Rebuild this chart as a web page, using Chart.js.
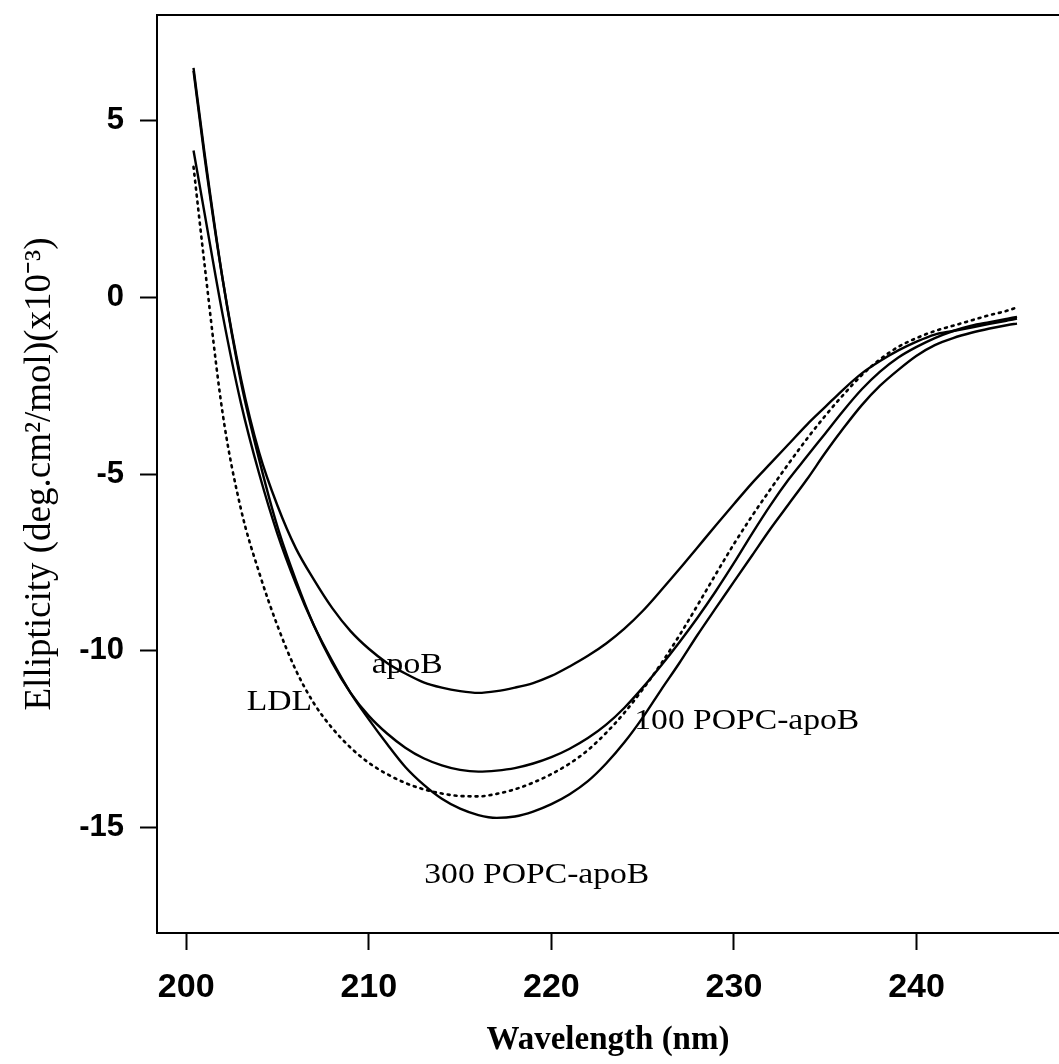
<!DOCTYPE html>
<html>
<head>
<meta charset="utf-8">
<title>CD spectra - apoB / LDL / POPC-apoB</title>
<script src="https://cdn.jsdelivr.net/npm/chart.js@4.4.0/dist/chart.umd.min.js"></script>
<style>
  html, body { margin: 0; padding: 0; background: #fff; }
  #cdChart { display: block; }
</style>
</head>
<body>
<canvas id="cdChart" width="1059" height="1064"></canvas>
<script>
// Wavelength (nm) and ellipticity (x10^-3)
const wavelengths = [200.4, 201, 202, 203, 204, 205, 206, 207, 208, 209, 210, 211, 212, 213, 214, 215, 216, 217, 218, 219, 220, 221, 222, 223, 224, 225, 226, 227, 228, 229, 230, 231, 232, 233, 234, 235, 236, 237, 238, 239, 240, 241, 242, 243, 244, 245, 245.5];

const apoB = [6.42, 4.0, 0.5, -2.3, -4.4, -5.9, -7.1, -8.0, -8.8, -9.45, -9.95, -10.35, -10.65, -10.9, -11.05, -11.15, -11.2, -11.15, -11.05, -10.92, -10.72, -10.45, -10.15, -9.8, -9.38, -8.88, -8.3, -7.7, -7.08, -6.46, -5.85, -5.25, -4.7, -4.15, -3.6, -3.1, -2.6, -2.15, -1.8, -1.5, -1.25, -1.05, -0.95, -0.85, -0.75, -0.65, -0.6];
const popc100 = [6.5, 4.1, 0.5, -2.4, -4.6, -6.5, -8.0, -9.3, -10.35, -11.2, -11.85, -12.35, -12.75, -13.05, -13.25, -13.38, -13.43, -13.4, -13.33, -13.2, -13.02, -12.78, -12.48, -12.1, -11.62, -11.05, -10.43, -9.77, -9.07, -8.32, -7.52, -6.68, -5.88, -5.15, -4.5, -3.85, -3.2, -2.6, -2.1, -1.7, -1.4, -1.15, -0.95, -0.8, -0.7, -0.6, -0.55];
const popc300 = [4.16, 2.4, -0.5, -3.0, -5.0, -6.7, -8.1, -9.3, -10.3, -11.2, -11.95, -12.65, -13.3, -13.8, -14.2, -14.48, -14.66, -14.74, -14.7, -14.56, -14.35, -14.07, -13.7, -13.2, -12.6, -11.9, -11.12, -10.36, -9.56, -8.8, -8.05, -7.3, -6.55, -5.85, -5.15, -4.4, -3.7, -3.05, -2.5, -2.05, -1.65, -1.35, -1.15, -1.0, -0.88, -0.78, -0.74];
const ldl = [3.7, 0.95, -3.3, -6.0, -7.8, -9.3, -10.55, -11.5, -12.2, -12.75, -13.18, -13.5, -13.75, -13.93, -14.05, -14.12, -14.13, -14.06, -13.93, -13.74, -13.5, -13.2, -12.82, -12.33, -11.76, -11.1, -10.38, -9.58, -8.72, -7.84, -6.98, -6.18, -5.43, -4.7, -4.0, -3.35, -2.75, -2.2, -1.75, -1.4, -1.15, -0.95, -0.8, -0.65, -0.5, -0.37, -0.28];

// curve labels written inside the plot, placed in data units
const curveLabels = ["apoB", "LDL", "100 POPC-apoB", "300 POPC-apoB"];
const labelWavelength = [212.1, 205.1, 230.7, 219.2];
const labelEllipticity = [-10.4, -11.45, -12.0, -16.35];

const toPoints = vals => vals.map((v, i) => ({ x: wavelengths[i], y: v }));

function curve(label, vals, dashed) {
  return {
    label: label,
    data: toPoints(vals),
    borderColor: "#000",
    borderWidth: dashed ? 2.6 : 2.4,
    borderDash: dashed ? [2, 5] : [],
    borderCapStyle: dashed ? "round" : "butt",
    pointRadius: 0,
    cubicInterpolationMode: "monotone",
    fill: false
  };
}

// top frame line + curve labels
const framePlugin = {
  id: "frame",
  afterDraw(chart) {
    const { ctx, chartArea, scales } = chart;
    ctx.save();
    ctx.strokeStyle = "#000";
    ctx.lineWidth = 2;
    ctx.beginPath();
    ctx.moveTo(chartArea.left, chartArea.top);
    ctx.lineTo(chartArea.right, chartArea.top);
    ctx.stroke();

    ctx.fillStyle = "#000";
    ctx.font = "30px 'Liberation Serif', 'Times New Roman', serif";
    ctx.textAlign = "center";
    ctx.textBaseline = "middle";
    curveLabels.forEach((txt, i) => {
      const px = scales.x.getPixelForValue(labelWavelength[i]);
      const py = scales.y.getPixelForValue(labelEllipticity[i]);
      ctx.save();
      ctx.translate(px, py);
      ctx.scale(1.12, 1);
      ctx.fillText(txt, 0, 0);
      ctx.restore();
    });
    ctx.restore();
  }
};

const ctx = document.getElementById("cdChart");
new Chart(ctx, {
  type: "line",
  data: {
    datasets: [
      curve("apoB", apoB, false),
      curve("100 POPC-apoB", popc100, false),
      curve("300 POPC-apoB", popc300, false),
      curve("LDL", ldl, true)
    ]
  },
  options: {
    responsive: false,
    devicePixelRatio: 1,
    animation: false,
    layout: { padding: { top: 15, right: 0, bottom: 0, left: 0 } },
    plugins: {
      legend: { display: false },
      tooltip: { enabled: false }
    },
    scales: {
      x: {
        type: "linear",
        min: 198.4,
        max: 247.8,
        ticks: {
          stepSize: 10,
          includeBounds: false,
          color: "#000",
          padding: 17,
          maxRotation: 0,
          font: { family: "'Liberation Sans', Arial, sans-serif", size: 34, weight: "bold" }
        },
        grid: { drawOnChartArea: false, tickLength: 17, tickWidth: 2, tickColor: "#000" },
        border: { display: true, color: "#000", width: 2 },
        title: {
          display: true,
          text: "Wavelength (nm)",
          color: "#000",
          padding: { top: 0, bottom: 4 },
          font: { family: "'Liberation Serif', 'Times New Roman', serif", size: 33, weight: "bold" }
        },
        afterFit(scale) {
          scale.height = 131;
          scale.paddingLeft = 0;
          scale.paddingRight = 0;
        }
      },
      y: {
        min: -18,
        max: 8,
        ticks: {
          stepSize: 5,
          includeBounds: false,
          color: "#000",
          padding: 16,
          font: { family: "'Liberation Sans', Arial, sans-serif", size: 31, weight: "bold" }
        },
        grid: { drawOnChartArea: false, tickLength: 17, tickWidth: 2, tickColor: "#000" },
        border: { display: true, color: "#000", width: 2 },
        title: {
          display: true,
          text: "Ellipticity (deg.cm²/mol)(x10⁻³)",
          color: "#000",
          padding: { top: 18, bottom: 0 },
          font: { family: "'Liberation Serif', 'Times New Roman', serif", size: 37 }
        },
        afterFit(scale) {
          scale.width = 157;
          scale.paddingTop = 0;
          scale.paddingBottom = 0;
        }
      }
    }
  },
  plugins: [framePlugin]
});
</script>
</body>
</html>
